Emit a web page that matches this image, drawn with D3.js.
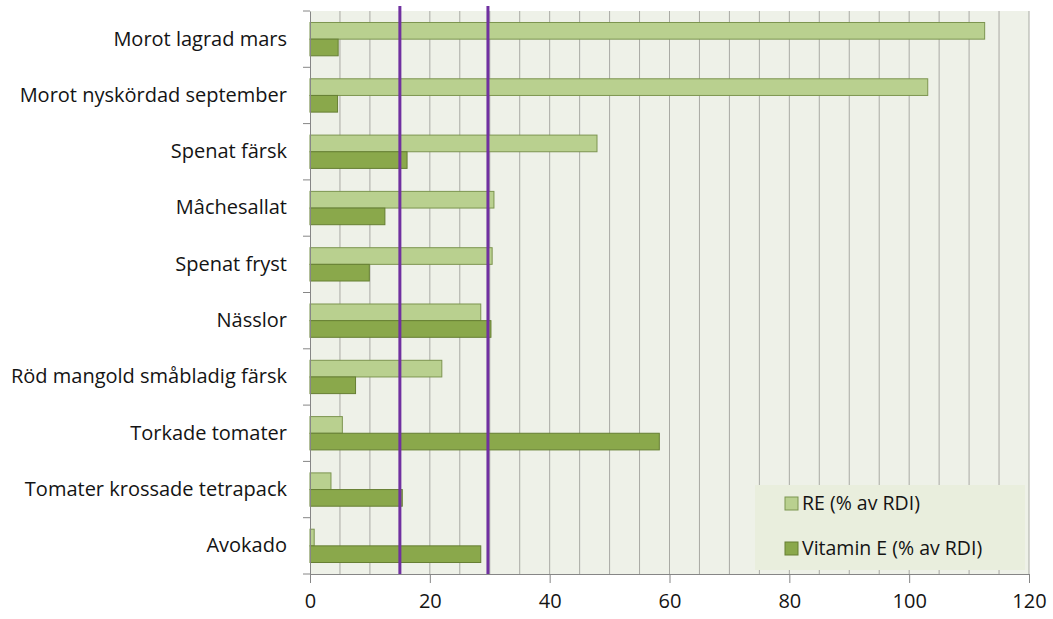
<!DOCTYPE html>
<html>
<head>
<meta charset="utf-8">
<script src="https://cdn.jsdelivr.net/npm/d3@7"></script>
<style>
  body { margin: 0; background: #fff; }
  svg text { font-family: "Open Sans", "Noto Sans", sans-serif; fill: #141414; }
</style>
</head>
<body>
<div id="chart"></div>
<script>
const categories = ['Morot lagrad mars', 'Morot nyskördad september', 'Spenat färsk', 'Mâchesallat',
                    'Spenat fryst', 'Nässlor ', 'Röd mangold småbladig färsk', 'Torkade tomater',
                    'Tomater krossade tetrapack', 'Avokado'];
const reValues   = [112.6, 103.1, 47.9, 30.7, 30.4, 28.5, 22.0, 5.4, 3.5, 0.7];
const vitEValues = [4.7, 4.6, 16.2, 12.5, 9.9, 30.2, 7.6, 58.3, 15.4, 28.5];
const seriesNames = ['RE (% av RDI)', 'Vitamin E (% av RDI)'];
const xTicks = [0, 20, 40, 60, 80, 100, 120];
const refLines = [15, 29.7];

const w = 1053, h = 619;
const pLeft = 310, pRight = 1029, pTop = 11, pBottom = 574;
const fills = ['#b9d08f', '#8aa84b'],
      strokes = ['#7d9550', '#667f33'];

const svg = d3.select('#chart').append('svg')
  .attr('width', w)
  .attr('height', h);

const x = d3.scaleLinear().domain([0, 120]).range([pLeft, pRight]);
const y = d3.scaleBand().domain(categories).range([pTop, pBottom]);
const ySub = d3.scaleBand().domain([0, 1]).range([0, y.bandwidth()]).paddingOuter(0.69);

// plot background
svg.append('rect')
  .attr('x', pLeft).attr('y', pTop)
  .attr('width', pRight - pLeft).attr('height', pBottom - pTop)
  .style('fill', '#eef1e8');

// gridlines every 5
svg.append('g').selectAll('line')
  .data(d3.range(5, 121, 5))
  .enter().append('line')
  .attr('x1', d => x(d)).attr('x2', d => x(d))
  .attr('y1', pTop).attr('y2', pBottom)
  .style('stroke', '#a9aaa4')
  .style('stroke-width', 1);

// bars
const rows = categories.map((c, i) => ({ cat: c, vals: [reValues[i], vitEValues[i]] }));
const group = svg.append('g').selectAll('g')
  .data(rows)
  .enter().append('g')
  .attr('transform', d => `translate(0, ${y(d.cat)})`);

group.selectAll('rect')
  .data(d => d.vals.map((v, k) => ({ v, k })))
  .enter().append('rect')
  .attr('x', x(0))
  .attr('y', d => ySub(d.k))
  .attr('width', d => x(d.v) - x(0))
  .attr('height', ySub.bandwidth())
  .style('fill', d => fills[d.k])
  .style('stroke', d => strokes[d.k])
  .style('stroke-width', 1);

// axes
const xAxis = svg.append('g')
  .attr('transform', `translate(0, ${pBottom})`)
  .call(d3.axisBottom(x).tickValues(xTicks).tickSize(9).tickPadding(11));
xAxis.select('.domain').style('stroke', '#868686');
xAxis.selectAll('.tick line').style('stroke', '#868686');
xAxis.selectAll('.tick text').style('font-size', '20px');

const yAxis = svg.append('g')
  .attr('transform', `translate(${pLeft}, 0)`)
  .call(d3.axisLeft(y).tickSize(0).tickPadding(23));
yAxis.select('.domain').style('stroke', '#868686');
yAxis.selectAll('.tick text').style('font-size', '20px');

// category boundary ticks
svg.append('g').selectAll('line')
  .data(categories.concat(['end']))
  .enter().append('line')
  .attr('x1', pLeft - 7).attr('x2', pLeft)
  .attr('y1', (d, i) => i < categories.length ? y(d) : pBottom)
  .attr('y2', (d, i) => i < categories.length ? y(d) : pBottom)
  .style('stroke', '#868686');

// reference lines
svg.append('g').selectAll('line')
  .data(refLines)
  .enter().append('line')
  .attr('x1', d => x(d)).attr('x2', d => x(d))
  .attr('y1', 6).attr('y2', pBottom)
  .style('stroke', '#7030a0')
  .style('stroke-width', 3);

// legend
const legend = svg.append('g').attr('transform', 'translate(755, 485)');
legend.append('rect')
  .attr('width', 270).attr('height', 85)
  .style('fill', '#e9eedd');

const items = legend.selectAll('.legend-item')
  .data(seriesNames)
  .enter().append('g')
  .attr('class', 'legend-item')
  .attr('transform', (d, i) => `translate(0, ${18 + i * 45})`);

items.append('rect')
  .attr('x', 30).attr('y', -6)
  .attr('width', 13).attr('height', 13)
  .style('fill', (d, i) => fills[i])
  .style('stroke', (d, i) => strokes[i]);

items.append('text')
  .attr('x', 47).attr('y', 0)
  .attr('dy', '0.35em')
  .style('font-size', '19.5px')
  .text(d => d);
</script>
</body>
</html>
